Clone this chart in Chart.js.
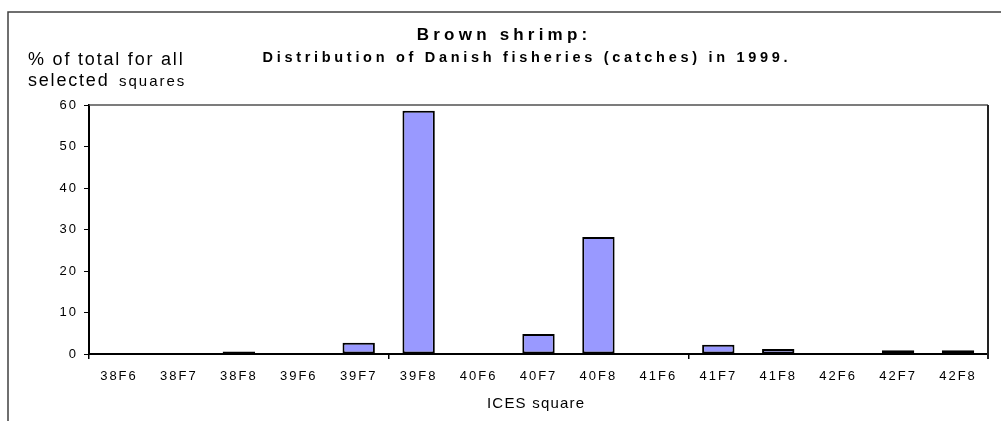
<!DOCTYPE html>
<html>
<head>
<meta charset="utf-8">
<script src="https://cdn.jsdelivr.net/npm/chart.js@4"></script>
<style>
  html, body { margin: 0; padding: 0; background: #fff; }
  #wrap { width: 1001px; height: 421px; }
</style>
</head>
<body>
<div id="wrap"><canvas id="shrimpChart"></canvas></div>
<script>
const squares = ["38F6", "38F7", "38F8", "39F6", "39F7", "39F8", "40F6", "40F7",
                 "40F8", "41F6", "41F7", "41F8", "42F6", "42F7", "42F8"];
const catchShare = [0, 0.1, 0.6, 0, 2.7, 58.6, 0, 4.8, 28.2, 0, 2.2, 1.2, 0, 0.9, 0.9];
const yTicks = [0, 10, 20, 30, 40, 50, 60];

const FONT = "'Liberation Sans', Arial, sans-serif";

// draws letter-spaced text on the alphabetic baseline
function spacedText(ctx, text, x, y, font, spacing, align) {
    ctx.save();
    ctx.font = font;
    ctx.letterSpacing = spacing + "px";
    ctx.fillStyle = "#000";
    ctx.textBaseline = "alphabetic";
    ctx.textAlign = "left";
    let w = ctx.measureText(text).width - spacing;
    let sx = align === "center" ? x - w / 2 : x;
    ctx.fillText(text, sx, y);
    ctx.restore();
}

const framePlugin = {
    id: "frame",
    beforeDraw(chart) {
        const ctx = chart.ctx;
        ctx.letterSpacing = "2px";
        ctx.save();
        ctx.strokeStyle = "#404040";
        ctx.lineWidth = 1.5;
        ctx.beginPath();
        ctx.moveTo(8, 421);
        ctx.lineTo(8, 12);
        ctx.lineTo(1001, 12);
        ctx.stroke();
        ctx.restore();
    },
    beforeDatasetsDraw(chart) {
        const {ctx, chartArea: a} = chart;
        ctx.save();
        ctx.strokeStyle = "#505050";
        ctx.lineWidth = 1.5;
        ctx.beginPath();
        ctx.moveTo(a.left, a.top);
        ctx.lineTo(a.right, a.top);
        ctx.stroke();
        ctx.strokeStyle = "#222";
        ctx.lineWidth = 2;
        ctx.beginPath();
        ctx.moveTo(a.right, a.top);
        ctx.lineTo(a.right, a.bottom + 5);
        ctx.stroke();
        ctx.restore();
    },
    afterDraw(chart) {
        const ctx = chart.ctx;
        spacedText(ctx, "Brown shrimp:", 502, 40, "bold 17px " + FONT, 4.2, "center");
        spacedText(ctx, "Distribution of Danish fisheries (catches) in 1999.", 525, 62,
                   "bold 14.5px " + FONT, 3.7, "center");
        spacedText(ctx, "% of total for all", 28, 65, "18px " + FONT, 1.8, "left");
        spacedText(ctx, "selected", 28, 86, "18px " + FONT, 1.8, "left");
        spacedText(ctx, "squares", 119, 86, "15px " + FONT, 2, "left");
        spacedText(ctx, "ICES square", 487, 408, "15px " + FONT, 1.2, "left");
    }
};

document.addEventListener("DOMContentLoaded", () => {
    const ctx = document.getElementById("shrimpChart").getContext("2d");
    new Chart(ctx, {
        type: "bar",
        data: {
            labels: squares,
            datasets: [{
                label: "% of total",
                data: catchShare,
                backgroundColor: "#9999ff",
                borderColor: "#000",
                borderWidth: 2,
                borderSkipped: false,
                categoryPercentage: 1,
                barPercentage: 0.54
            }]
        },
        options: {
            responsive: true,
            maintainAspectRatio: false,
            animation: false,
            layout: { padding: { top: 105, right: 13, left: 0, bottom: 0 } },
            plugins: {
                legend: { display: false },
                tooltip: { enabled: false }
            },
            scales: {
                x: {
                    afterFit(scale) { scale.height = 67; },
                    grid: {
                        drawOnChartArea: false,
                        drawTicks: true,
                        tickLength: 5,
                        lineWidth: 1.5,
                        color: (c) => (c.index === undefined || c.index % 5 === 0) ? "#000" : "rgba(0,0,0,0)"
                    },
                    border: { display: true, color: "#000", width: 2 },
                    ticks: {
                        color: "#000",
                        padding: 10,
                        maxRotation: 0,
                        autoSkip: false,
                        font: { family: FONT, size: 13 }
                    }
                },
                y: {
                    min: 0,
                    max: 60,
                    afterFit(scale) { scale.width = 89; },
                    afterBuildTicks(scale) { scale.ticks = yTicks.map(v => ({ value: v })); },
                    grid: {
                        drawOnChartArea: false,
                        drawTicks: true,
                        tickLength: 5,
                        color: "#000"
                    },
                    border: { display: true, color: "#000", width: 2 },
                    ticks: {
                        color: "#000",
                        padding: 6,
                        font: { family: FONT, size: 13 }
                    }
                }
            }
        },
        plugins: [framePlugin]
    });
});
</script>
</body>
</html>
